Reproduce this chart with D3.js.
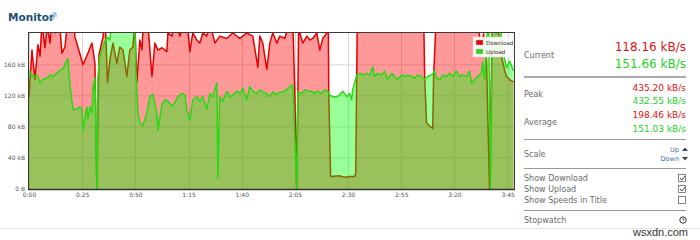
<!DOCTYPE html>
<html><head><meta charset="utf-8">
<script src="https://cdn.jsdelivr.net/npm/d3@7"></script>
<style>
html,body{margin:0;padding:0;background:#fff;}
svg{display:block;font-family:"DejaVu Sans",sans-serif;}
</style></head>
<body><svg id="c" width="700" height="240"></svg>
<script>
// ---- data (seconds, kB/s) ----
const dlTimes = [0,1.4,2.8,4.2,5.2,6.1,7.5,8.5,9.9,10.8,12.2,13.6,15.5,16.9,18.3,19.3,20.7,21.6,23.0,25.4,27.7,29.6,31.0,31.9,32.9,34.8,35.7,36.9,38.0,39.5,41.3,42.7,44.2,46.0,47.4,48.8,49.8,50.7,52.1,53.1,53.5,55.4,57.8,59.2,60.6,62.5,64.8,65.3,67.2,68.6,70.9,74.2,75.6,77.0,78.9,80.3,81.7,83.6,85.0,87.4,89.7,93.0,95.8,99.1,102.4,105.2,107.6,108.5,109.9,111.8,113.2,114.6,116.5,117.9,120.2,122.6,124.0,124.9,125.9,126.8,127.3,128.7,130.6,132.0,133.4,135.3,136.7,138.1,140.0,140.7,140.9,141.8,146.0,148.4,150.8,153.1,153.6,154.3,157.8,164.9,174.3,185.5,186.0,186.9,189.8,190.2,191.6,202.4,210.9,212.3,213.7,215.1,216.5,217.9,220.3,222.2,223.6,224.5,225.9,227.8];
const download = [119,179,141,186,171,215,182,210,188,230,201,240,175,183,220,205,230,196,183,160,175,188,162,0,173,196,230,137,166,188,162,183,179,145,179,183,210,137,192,179,200,230,145,188,179,182,177,201,197,220,197,220,177,201,192,188,201,197,215,188,197,194,201,194,201,197,157,197,188,154,188,201,188,197,194,215,215,132,0,220,201,188,197,192,194,201,179,194,201,220,124,16,17,15,16,16,20,210,240,230,235,230,145,85,78,145,230,240,230,180,200,164,0,230,210,170,153,145,141,138];
const ulTimes = [0,0.5,1.9,3.8,5.2,6.6,8.5,9.9,11.3,13.2,14.6,16.0,17.8,18.3,19.3,20.7,22.5,24.0,24.9,25.4,27.2,27.7,28.7,29.6,30.1,31.0,31.9,32.4,33.3,34.8,36.6,38.0,39.0,42.7,46.5,49.3,49.8,50.3,51.2,52.1,53.5,55.4,56.8,58.2,60.1,60.6,62.5,63.9,65.3,67.2,68.6,70.0,71.9,73.3,74.2,75.6,77.0,78.9,80.3,81.7,83.6,85.0,86.4,88.3,88.8,89.7,91.1,93.0,94.4,95.8,97.7,99.1,100.5,102.4,103.8,105.2,107.1,108.5,109.9,111.8,113.2,114.6,116.5,117.9,119.3,121.2,122.6,124.0,125.9,126.3,128.2,129.6,131.0,132.9,134.3,135.7,137.6,139.0,140.4,141.4,142.8,144.7,146.0,147.5,149.4,150.8,151.7,152.2,153.1,154.1,155.5,156.9,158.8,160.2,161.6,162.5,163.9,165.8,167.2,168.6,170.5,171.9,173.3,175.2,176.6,178.0,179.9,181.3,182.7,184.6,186.0,187.4,189.3,190.7,191.6,193.1,194.5,196.3,197.7,199.2,201.0,202.4,203.8,205.7,207.1,208.1,209.5,210.9,212.8,213.2,214.2,215.1,216.1,217.0,217.9,219.8,221.2,222.6,224.5,225.9,227.8];
const upload = [150,151,145,147,137,141,143,147,145,150,153,155,166,168,132,102,103,106,102,76,106,90,106,98,132,143,0,145,171,184,196,192,215,225,220,215,210,150,100,85,82,98,119,122,98,76,109,115,113,107,111,119,123,121,101,89,115,119,113,119,103,123,119,137,14,119,113,126,119,121,126,123,130,115,132,126,123,128,125,123,119,125,122,125,125,128,132,134,0,125,123,128,126,126,123,126,123,128,126,121,119,119,121,126,119,123,115,128,137,147,149,147,149,147,157,145,149,147,152,141,149,145,141,147,145,147,145,143,147,145,141,145,147,152,143,141,147,145,149,145,152,145,147,145,152,136,141,145,149,164,141,195,210,0,215,200,225,180,156,165,152];
const yTicks = [0,40,80,120,160];
const yTickLabels = ["0 B","40 kB","80 kB","120 kB","160 kB"];
const xTicks = [0,25,50,75,100,125,150,175,200,225];
const xTickLabels = ["0:00","0:25","0:50","1:15","1:40","2:05","2:30","2:55","3:20","3:45"];
const seriesNames = ["Download","Upload"];
const statLabels = ["Current","Peak","Average"];
const currentVals = ["118.16 kB/s","151.66 kB/s"];
const peakVals = ["435.20 kB/s","432.55 kB/s"];
const avgVals = ["198.46 kB/s","151.03 kB/s"];
const optionLabels = ["Show Download","Show Upload","Show Speeds in Title"];
const optionChecked = [true,true,false];

const RED = "rgb(228,0,0)", GREEN = "rgb(40,218,20)";
const svg = d3.select("#c");
const L=29, R=514, T=33, B=189;
const x = d3.scaleLinear().domain([0,228]).range([L,R]);
const y = d3.scaleLinear().domain([0,201]).range([B,T]);

// title
svg.append("text").attr("x",8).attr("y",20.5).attr("font-size",10.5).attr("font-weight","bold")
  .attr("fill","#24507a").text("Monitor");
const ic = svg.append("g").attr("transform","translate(50,13)");
ic.append("rect").attr("x",0).attr("y",2).attr("width",4).attr("height",4).attr("fill","none").attr("stroke","#6a9ccc").attr("stroke-width",0.8);
ic.append("path").attr("d","M2,0 L6,0 L6,4 M6,0 L3,3").attr("fill","none").attr("stroke","#6a9ccc").attr("stroke-width",0.8);

// clip
svg.append("defs").append("clipPath").attr("id","pc").append("rect")
  .attr("x",L).attr("y",T).attr("width",R-L).attr("height",B-T);

// gridlines
const grid = svg.append("g");
grid.selectAll("line.h").data(yTicks.slice(1)).join("line")
  .attr("x1",L).attr("x2",R).attr("y1",d=>y(d)).attr("y2",d=>y(d))
  .attr("stroke","#d8d8d8").attr("stroke-width",1);
grid.selectAll("line.v").data(xTicks).join("line")
  .attr("x1",d=>Math.round(x(d))+0.5).attr("x2",d=>Math.round(x(d))+0.5).attr("y1",T).attr("y2",B)
  .attr("stroke","#d8d8d8").attr("stroke-width",1);

const dl = dlTimes.map((t,i)=>[t,download[i]]);
const ul = ulTimes.map((t,i)=>[t,upload[i]]);
const area = d3.area().x(d=>x(d[0])).y0(B).y1(d=>y(d[1]));
const line = d3.line().x(d=>x(d[0])).y(d=>y(d[1]));

const pg = svg.append("g").attr("clip-path","url(#pc)");
pg.append("path").attr("d",area(dl)).attr("fill","rgba(255,0,0,0.4)");
pg.append("path").attr("d",line(dl)).attr("fill","none").attr("stroke",RED).attr("stroke-width",1.5).attr("stroke-linejoin","round");
pg.append("path").attr("d",area(ul)).attr("fill","rgba(0,255,0,0.4)");
pg.append("path").attr("d",line(ul)).attr("fill","none").attr("stroke",GREEN).attr("stroke-width",1.5).attr("stroke-linejoin","round");

// frame
svg.append("rect").attr("x",L-0.5).attr("y",T-0.5).attr("width",R-L+1).attr("height",B-T+1)
  .attr("fill","none").attr("stroke","#3a3a3a").attr("stroke-width",1);
svg.append("line").attr("x1",L-1).attr("x2",R+1).attr("y1",B+0.5).attr("y2",B+0.5).attr("stroke","#333").attr("stroke-width",1.5);

// axes
const yAxis = d3.axisLeft(y).tickValues(yTicks).tickSize(0).tickPadding(4)
  .tickFormat((d,i)=>yTickLabels[i]);
const ya = svg.append("g").attr("transform",`translate(${L},0)`).call(yAxis);
ya.select(".domain").remove();
ya.selectAll("text").attr("font-size",6).attr("fill","#555").attr("font-family","DejaVu Sans");
const xAxis = d3.axisBottom(x).tickValues(xTicks).tickSize(0).tickPadding(4)
  .tickFormat((d,i)=>xTickLabels[i]);
const xa = svg.append("g").attr("transform",`translate(0,${B})`).call(xAxis);
xa.select(".domain").remove();
xa.selectAll("text").attr("font-size",6).attr("fill","#555").attr("font-family","DejaVu Sans");

// legend
const lg = svg.append("g");
lg.append("rect").attr("x",473).attr("y",37).attr("width",40).attr("height",20).attr("fill","rgba(255,255,255,0.9)").attr("stroke","#ddd").attr("stroke-width",0.5);
[RED,GREEN].forEach((c,i)=>{
  lg.append("rect").attr("x",476).attr("y",40+i*9).attr("width",7).attr("height",5).attr("fill",c).attr("stroke","#ccc").attr("stroke-width",0.5);
  lg.append("text").attr("x",486).attr("y",44.5+i*9).attr("font-size",5.5).attr("fill","#333").text(seriesNames[i]);
});

// right panel
const PX=524, PR=686;
const lab = (t,yy)=>svg.append("text").attr("x",PX).attr("y",yy).attr("font-size",8).attr("fill","#6a6a6a").text(t);
const val = (t,yy,c,fs)=>svg.append("text").attr("x",PR).attr("y",yy).attr("text-anchor","end").attr("font-size",fs).attr("fill",c).text(t);
const hr = (yy,w,c)=>svg.append("line").attr("x1",PX).attr("x2",PR).attr("y1",yy).attr("y2",yy).attr("stroke",c).attr("stroke-width",w);

lab(statLabels[0],58);
val(currentVals[0],51,"#e01010",12);
val(currentVals[1],68,"#22d41a",12);
hr(77,2,"#aaa");
lab(statLabels[1],97);
val(peakVals[0],91,"#e01010",9);
val(peakVals[1],104,"#22d41a",9);
lab(statLabels[2],125);
val(avgVals[0],118,"#e01010",9);
val(avgVals[1],132,"#22d41a",9);
hr(139.5,1,"#999");
lab("Scale",157);
svg.append("text").attr("x",679).attr("y",152).attr("text-anchor","end").attr("font-size",6.5).attr("fill","#3b6ea5").text("Up");
svg.append("text").attr("x",679).attr("y",161).attr("text-anchor","end").attr("font-size",6.5).attr("fill","#3b6ea5").text("Down");
svg.append("path").attr("d","M682,151 L688,151 L685,147.5 Z").attr("fill","#444");
svg.append("path").attr("d","M682,157 L688,157 L685,160.5 Z").attr("fill","#444");
hr(168.5,1,"#999");
optionLabels.forEach((t,i)=>{
  lab(t,181+i*11);
  svg.append("rect").attr("x",678.5).attr("y",174.5+i*11).attr("width",7).attr("height",7).attr("fill","#fff").attr("stroke","#666").attr("stroke-width",0.8);
  if(optionChecked[i]) svg.append("path").attr("d",`M680,${178+i*11} L682,${180+i*11} L685,${176+i*11}`).attr("fill","none").attr("stroke","#333").attr("stroke-width",0.9);
});
hr(210.5,1,"#999");
lab("Stopwatch",223);
svg.append("circle").attr("cx",683).attr("cy",220).attr("r",3.2).attr("fill","none").attr("stroke","#333").attr("stroke-width",1);
svg.append("path").attr("d","M683,218 L683,220 L684.5,220").attr("fill","none").attr("stroke","#333").attr("stroke-width",0.8);
svg.append("line").attr("x1",0).attr("x2",700).attr("y1",228.5).attr("y2",228.5).attr("stroke","#e4e4e4").attr("stroke-width",1);
svg.append("text").attr("x",688).attr("y",236).attr("text-anchor","end").attr("font-size",11).attr("fill","#333").attr("font-family","Liberation Sans").text("wsxdn.com");
</script></body></html>
